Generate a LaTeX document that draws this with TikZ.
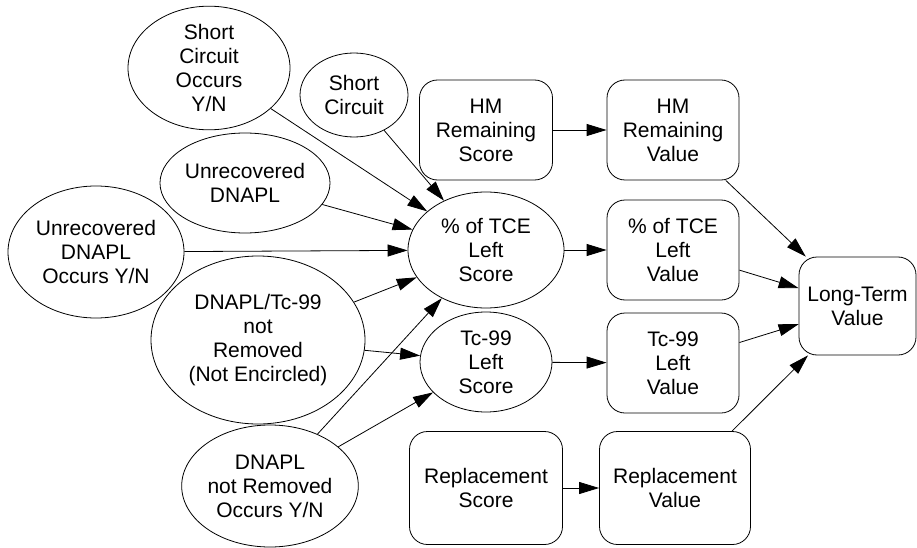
\documentclass[tikz,border=0pt]{standalone}
\usepackage{fontspec}
\setmainfont{Liberation Sans}
\usetikzlibrary{shapes.geometric,arrows.meta}
\begin{document}
\begin{tikzpicture}[x=1pt,y=-1pt,
  every node/.style={font=\fontsize{21}{24}\selectfont, align=center, inner sep=0pt},
  ell/.style={draw, ellipse, line width=0.8pt},
  rbox/.style={draw, rectangle, rounded corners=18pt, line width=0.8pt},
  arr/.style={line width=0.8pt, -{Triangle[length=20pt,width=12pt]}}
]
\useasboundingbox (0,0) rectangle (917,548);
% ellipses
\node[ell, minimum width=162pt, minimum height=120pt] (sco) at (209,68) {Short\\Circuit\\Occurs\\Y/N};
\node[ell, minimum width=108pt, minimum height=84pt] (sc) at (354,95) {Short\\Circuit};
\node[ell, minimum width=146pt, minimum height=100pt] (ud) at (245,183) {Unrecovered\\DNAPL};
\node[ell, minimum width=176pt, minimum height=132pt] (udo) at (96,252) {Unrecovered\\DNAPL\\Occurs Y/N};
\node[ell, minimum width=214pt, minimum height=168pt] (dtc) at (258,340) {DNAPL/Tc-99\\not\\Removed\\(Not Encircled)};
\node[ell, minimum width=166pt, minimum height=122pt] (dnr) at (270,486) {DNAPL\\not Removed\\Occurs Y/N};
\node[ell, minimum width=156pt, minimum height=116pt] (tces) at (486,250) {\% of TCE\\Left\\Score};
\node[ell, minimum width=132pt, minimum height=100pt] (tcs) at (486,362) {Tc-99\\Left\\Score};
% boxes
\node[rbox, minimum width=133pt, minimum height=100pt] (hms) at (486,130) {HM\\Remaining\\Score};
\node[rbox, minimum width=132pt, minimum height=100pt] (hmv) at (673,130) {HM\\Remaining\\Value};
\node[rbox, minimum width=132pt, minimum height=100pt] (tcev) at (673,250) {\% of TCE\\Left\\Value};
\node[rbox, minimum width=132pt, minimum height=100pt] (tcv) at (673,363) {Tc-99\\Left\\Value};
\node[rbox, minimum width=153pt, minimum height=113pt] (rs) at (486,488) {Replacement\\Score};
\node[rbox, minimum width=151pt, minimum height=113pt] (rv) at (675,488) {Replacement\\Value};
\node[rbox, minimum width=117pt, minimum height=98pt] (ltv) at (857.5,306) {Long-Term\\Value};
% connectors
\draw[arr] (sco) -- (tces);
\draw[arr] (sc) -- (tces);
\draw[arr] (ud) -- (tces);
\draw[arr] (udo) -- (tces);
\draw[arr] (dtc) -- (tces);
\draw[arr] (dtc) -- (tcs);
\draw[arr] (dnr) -- (tces);
\draw[arr] (dnr) -- (tcs);
\draw[arr] (hms) -- (hmv);
\draw[arr] (tces) -- (tcev);
\draw[arr] (tcs) -- (tcv);
\draw[arr] (rs) -- (rv);
\draw[arr] (hmv) -- (ltv);
\draw[arr] (tcev) -- (ltv);
\draw[arr] (tcv) -- (ltv);
\draw[arr] (rv) -- (ltv);
\end{tikzpicture}
\end{document}
